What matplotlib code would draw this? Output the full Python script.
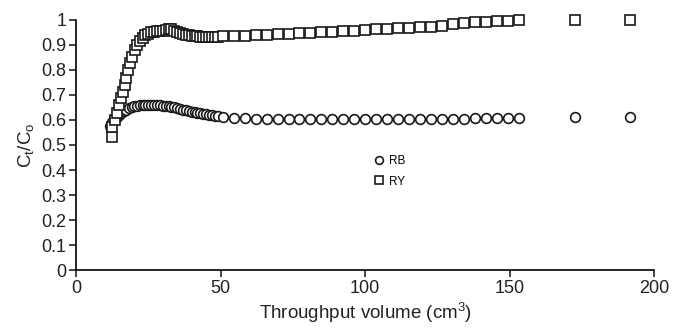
import matplotlib
matplotlib.use("Agg")
import matplotlib.pyplot as plt
from matplotlib.ticker import FuncFormatter

plt.rcParams['font.family'] = ['Liberation Sans', 'DejaVu Sans']
plt.rcParams['mathtext.fontset'] = 'custom'
plt.rcParams['mathtext.rm'] = 'Liberation Sans'
plt.rcParams['mathtext.it'] = 'Liberation Sans'

# RB (circles)
rb_x = [11.8, 12.5, 13.2, 14.0, 14.8, 15.6, 16.5, 17.4, 18.3, 19.2, 20.1, 21.0,
        22.0, 23.0, 24.0, 25.0, 26.0, 27.0, 28.0, 29.0, 30.0, 31.0, 32.0, 33.0,
        34.0, 35.0, 36.0, 37.0, 38.0, 39.0, 40.0, 41.0, 42.0, 43.0, 44.0, 45.0,
        46.0, 47.0, 48.0, 49.0,
        50.7, 54.5, 58.3, 62.1, 65.9, 69.7, 73.5, 77.3, 81.1, 84.9, 88.7, 92.5,
        96.3, 100.1, 103.9, 107.7, 111.5, 115.3, 119.1, 122.9, 126.7, 130.5,
        134.3, 138.1, 141.9, 145.7, 149.5, 153.3, 172.5, 191.5]
rb_y = [0.575, 0.590, 0.602, 0.612, 0.620, 0.628, 0.635, 0.641, 0.646, 0.650, 0.654, 0.657,
        0.659, 0.660, 0.661, 0.661, 0.661, 0.660, 0.659, 0.658, 0.657, 0.656, 0.654, 0.652,
        0.650, 0.647, 0.644, 0.641, 0.638, 0.636, 0.633, 0.631, 0.629, 0.627, 0.625, 0.623,
        0.621, 0.619, 0.617, 0.615,
        0.610, 0.607, 0.606, 0.605, 0.605, 0.604, 0.604, 0.604, 0.603, 0.603, 0.603, 0.603,
        0.603, 0.603, 0.603, 0.604, 0.604, 0.604, 0.604, 0.605, 0.605, 0.605,
        0.605, 0.606, 0.606, 0.606, 0.606, 0.606, 0.610, 0.610]

# RY (squares)
ry_x = [12.4, 12.6, 13.4, 14.1, 14.8, 15.5, 16.2, 16.8, 17.4, 18.1, 18.8, 19.5,
        20.3, 21.2, 22.1, 23.0, 24.0, 25.0, 26.0, 27.0, 28.0, 29.0, 30.0, 31.0,
        32.0, 33.0, 34.0, 35.0, 36.0, 37.0, 38.0, 39.0, 40.0, 41.0, 42.0, 43.0,
        44.0, 45.0, 46.0, 47.0, 48.0, 49.0,
        50.7, 54.5, 58.3, 62.1, 65.9, 69.7, 73.5, 77.3, 81.1, 84.9, 88.7, 92.5,
        96.3, 100.1, 103.9, 107.7, 111.5, 115.3, 119.1, 122.9, 126.7, 130.5,
        134.3, 138.1, 141.9, 145.7, 149.5, 153.3, 172.5, 191.5]
ry_y = [0.532, 0.572, 0.600, 0.628, 0.658, 0.688, 0.712, 0.740, 0.768, 0.798, 0.826, 0.852,
        0.878, 0.900, 0.916, 0.928, 0.938, 0.945, 0.950, 0.953, 0.955, 0.956, 0.957, 0.960,
        0.963, 0.962, 0.955, 0.950, 0.946, 0.943, 0.940, 0.938, 0.936, 0.935, 0.934, 0.933,
        0.932, 0.931, 0.930, 0.931, 0.932, 0.933,
        0.935, 0.936, 0.937, 0.938, 0.940, 0.942, 0.944, 0.946, 0.948, 0.950, 0.952, 0.954,
        0.956, 0.958, 0.962, 0.964, 0.966, 0.968, 0.970, 0.972, 0.976, 0.985,
        0.988, 0.990, 0.992, 0.995, 0.997, 0.998, 1.000, 1.000]

x_ticks = [0, 50, 100, 150, 200]
y_ticks = [0, 0.1, 0.2, 0.3, 0.4, 0.5, 0.6, 0.7, 0.8, 0.9, 1.0]

fig = plt.figure(figsize=(6.73, 3.31), dpi=100)
ax = fig.add_axes([0.113, 0.184, 0.859, 0.756])

ax.plot(rb_x, rb_y, linestyle='none', marker='o', markersize=7,
        markerfacecolor='white', markeredgecolor='#1a1a1a', markeredgewidth=1.2,
        label='RB', clip_on=False)
ax.plot(ry_x, ry_y, linestyle='none', marker='s', markersize=7,
        markerfacecolor='white', markeredgecolor='#1a1a1a', markeredgewidth=1.2,
        label='RY', clip_on=False)

ax.set_xlim(0, 200)
ax.set_ylim(0, 1)
ax.set_xticks(x_ticks)
ax.set_yticks(y_ticks)
ax.yaxis.set_major_formatter(FuncFormatter(lambda v, p: '%g' % round(v, 1)))
for s in ['top', 'right']:
    ax.spines[s].set_visible(False)
for s in ['left', 'bottom']:
    ax.spines[s].set_linewidth(1.2)
ax.tick_params(axis='both', direction='out', length=5, width=1.2,
               labelsize=13, colors='#222222', pad=2)

ax.set_xlabel('Throughput volume (cm$^\\mathregular{3}$)', fontsize=13.5, color='#222222', labelpad=3)
ax.set_ylabel('C$_\\mathregular{t}$/C$_\\mathregular{o}$', fontsize=13.5, color='#222222', labelpad=4)

leg = ax.legend(loc='upper left', bbox_to_anchor=(0.507, 0.48), frameon=False,
                fontsize=8.5, handlelength=0.8, handletextpad=0.45, labelspacing=0.75,
                markerscale=0.8, borderaxespad=0)

fig.savefig('out.png', dpi=100)
